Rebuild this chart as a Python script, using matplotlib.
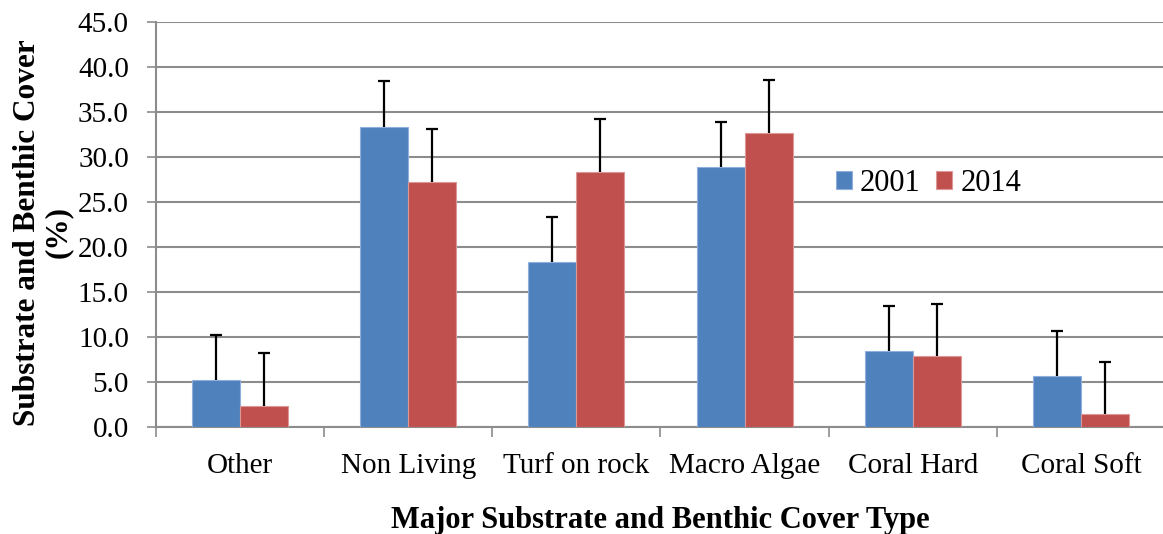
import matplotlib
matplotlib.use("Agg")
import matplotlib.pyplot as plt
import numpy as np

categories = ["Other", "Non Living", "Turf on rock", "Macro Algae", "Coral Hard", "Coral Soft"]
cover_2001 = [5.2, 33.3, 18.3, 28.9, 8.4, 5.7]
cover_2014 = [2.3, 27.2, 28.3, 32.7, 7.9, 1.4]
err_2001 = [5.0, 5.1, 5.0, 5.0, 5.0, 5.0]
err_2014 = [5.9, 5.9, 5.9, 5.9, 5.8, 5.8]
yticks = np.arange(0, 45.1, 5.0)

plt.rcParams["font.family"] = ["Liberation Serif", "DejaVu Serif"]

fig = plt.figure(figsize=(11.63, 5.34), dpi=100)
ax = fig.add_axes([0.1341, 0.2004, 0.8676, 0.7584])

x = np.arange(len(categories))
w = 0.2857
blue = "#4F81BD"
red = "#C0504D"
grey = "#8c8c8c"


def bars_with_upper_error(xpos, vals, errs, color, edge, label):
    ax.bar(xpos, vals, w, color=color, edgecolor=edge, linewidth=0.8,
           label=label, zorder=3)
    _, caps, _ = ax.errorbar(xpos, vals, yerr=[np.zeros(len(vals)), errs], fmt="none",
                             ecolor="black", elinewidth=1.6, capsize=4.5,
                             capthick=1.6, zorder=4)
    # hide the cap sitting on top of each bar; keep only the upper whisker cap
    caps[0].set_visible(False)


bars_with_upper_error(x - w / 2, cover_2001, err_2001, blue, "#8fb0dc", "2001")
bars_with_upper_error(x + w / 2, cover_2014, err_2014, red, "#dc9896", "2014")

ax.set_xlim(-0.5, len(categories) - 0.5)
ax.set_ylim(0, 45)
ax.set_yticks(yticks)
ax.set_yticklabels([f"{v:.1f}" for v in yticks], fontsize=21)
ax.yaxis.grid(True, color=grey, linewidth=1.5, zorder=0)
ax.set_axisbelow(True)

ax.set_xticks(x)
ax.set_xticklabels(categories, fontsize=21)
ax.tick_params(axis="x", length=0, pad=19)
ax.set_xticks(np.arange(-0.5, len(categories)), minor=True)
ax.tick_params(axis="x", which="minor", length=7.5, width=1.2, color=grey, direction="out")
ax.tick_params(axis="y", length=6.5, width=1.2, color=grey, direction="out", pad=13)

for s in ["top", "right"]:
    ax.spines[s].set_visible(False)
for s in ["left", "bottom"]:
    ax.spines[s].set_color(grey)
    ax.spines[s].set_linewidth(1.5)

ax.set_xlabel("Major Substrate and Benthic Cover Type", fontsize=22, fontweight="bold",
              labelpad=19)
fig.text(0.037, 0.565, "Substrate and Benthic Cover\n(%)", rotation=90, ha="center",
         va="center", fontsize=22.5, fontweight="bold", linespacing=1.05,
         multialignment="center")

fig.legend(loc="center left", bbox_to_anchor=(0.7188, 0.656), ncol=2, frameon=False,
           fontsize=22, handlelength=0.52, handleheight=0.52, handletextpad=0.26,
           columnspacing=0.52, borderpad=0, borderaxespad=0)

fig.savefig("out.png", dpi=100)
